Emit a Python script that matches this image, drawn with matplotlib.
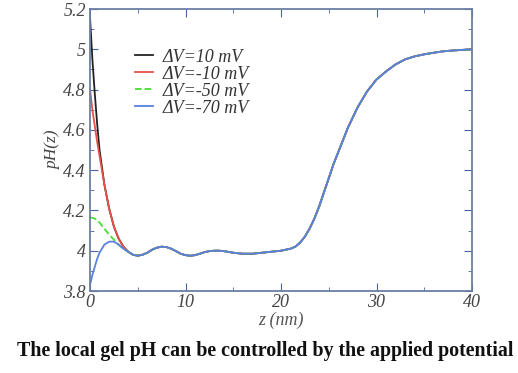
import numpy as np
import matplotlib.pyplot as plt
from matplotlib.ticker import MultipleLocator

# Data
# shared tail (all four curves coincide for z > 4)
z_tail = [4.5, 5, 5.5, 6, 6.5, 7, 7.5, 8, 8.5, 9, 9.5, 10, 10.5, 11, 11.5, 12,
          12.5, 13, 13.5, 14, 14.5, 15, 16, 17, 18, 19, 20, 21, 21.5, 22, 22.5,
          23, 23.5, 24, 24.5, 25, 25.5, 26, 26.5, 27, 27.5, 28, 28.5, 29, 29.5,
          30, 31, 32, 33, 34, 35, 36, 37, 38, 39, 40]
ph_tail = [3.98, 3.975, 3.98, 3.99, 4.005, 4.015, 4.02, 4.018, 4.01, 3.998,
           3.985, 3.978, 3.975, 3.978, 3.985, 3.993, 3.998, 4.0, 4.0, 3.998,
           3.994, 3.99, 3.985, 3.985, 3.99, 3.995, 4.0, 4.01, 4.02, 4.04, 4.07,
           4.11, 4.16, 4.22, 4.29, 4.36, 4.43, 4.49, 4.55, 4.61, 4.66, 4.71,
           4.75, 4.79, 4.82, 4.85, 4.89, 4.925, 4.95, 4.965, 4.975, 4.983,
           4.99, 4.994, 4.997, 5.0]

z_head = [0, 0.25, 0.5, 0.75, 1, 1.5, 2, 2.5, 3, 3.5, 4]
ph_10 = [5.16, 4.95, 4.78, 4.63, 4.5, 4.33, 4.21, 4.12, 4.06, 4.02, 3.995]
ph_m10 = [4.8, 4.7, 4.62, 4.54, 4.47, 4.33, 4.21, 4.12, 4.06, 4.02, 3.995]
ph_m50 = [4.165, 4.163, 4.16, 4.15, 4.14, 4.11, 4.08, 4.055, 4.03, 4.01, 3.995]
ph_m70 = [3.83, 3.88, 3.92, 3.96, 3.99, 4.03, 4.045, 4.045, 4.03, 4.01, 3.995]

labels = ['\u0394V=10 mV', '\u0394V=-10 mV', '\u0394V=-50 mV', '\u0394V=-70 mV']
colors = ['#222222', '#e8504a', '#44dd33', '#5a80e0']
styles = ['-', '-', '--', '-']

plt.rcParams['font.family'] = 'Liberation Serif'

fig = plt.figure(figsize=(5.18, 3.73), dpi=100)
ax = fig.add_axes([90 / 518, 1 - 291 / 373, 382 / 518, 282 / 373])

z = np.array(z_head + z_tail)
for ph, lab, c, ls in zip([ph_10, ph_m10, ph_m50, ph_m70], labels, colors, styles):
    ax.plot(z, ph + ph_tail, color=c, ls=ls, lw=1.3, label=lab)

ax.set_xlim(0, 40)
ax.set_ylim(3.8, 5.2)
ax.xaxis.set_minor_locator(MultipleLocator(5))
ax.yaxis.set_minor_locator(MultipleLocator(0.1))
ax.set_xticks([0, 10, 20, 30, 40])
ax.set_xticklabels(['0', '10', '20', '30', '40'])
ax.set_yticks([3.8, 4, 4.2, 4.4, 4.6, 4.8, 5, 5.2])
ax.set_yticklabels(['3.8', '4', '4.2', '4.4', '4.6', '4.8', '5', '5.2'])

spine_c = '#6a7fa3'
for s in ax.spines.values():
    s.set_color(spine_c)
    s.set_linewidth(1.3)
ax.tick_params(which='both', direction='in', top=True, right=True,
               color='#4a62a0', labelcolor='#444444', labelsize=13)
ax.tick_params(axis='x', pad=2)
ax.tick_params(axis='y', pad=3)
ax.tick_params(which='major', length=6)
ax.tick_params(which='minor', length=3)
for t in ax.get_xticklabels() + ax.get_yticklabels():
    t.set_fontstyle('italic')

ax.set_xlabel('z (nm)', fontstyle='italic', fontsize=13, color='#555555', labelpad=1)
ax.set_ylabel('pH(z)', fontstyle='italic', fontsize=12.5, color='#444444', labelpad=2)

leg = ax.legend(loc='upper left', bbox_to_anchor=(0.1, 0.885), frameon=False,
                prop={'size': 13, 'style': 'italic'}, handlelength=1.0,
                handletextpad=0.5, labelspacing=0.0, borderaxespad=0)
for t in leg.get_texts():
    t.set_color('#333333')

fig.text(265 / 518, 1 - 351 / 373, 'The local gel pH can be controlled by the applied potential',
         ha='center', va='center', fontsize=14.4, fontweight='bold', color='#111111')

fig.savefig('out.png', dpi=100)
